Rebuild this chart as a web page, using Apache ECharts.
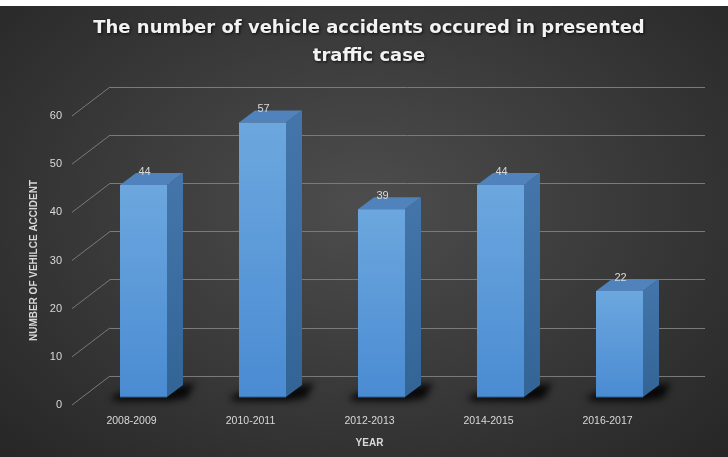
<!DOCTYPE html>
<html>
<head>
<meta charset="utf-8">
<script src="https://cdn.jsdelivr.net/npm/echarts@6/dist/echarts.min.js"></script>
<style>
html,body{margin:0;padding:0;background:#fff;}
#c{width:728px;height:457px;background:linear-gradient(#fff 0,#fff 6px,transparent 6px),radial-gradient(ellipse at 50% 45%,#4d4d4d 0%,#3c3c3c 45%,#262626 100%);}
</style>
</head>
<body>
<div id="c"></div>
<script>
var titleText = 'The number of vehicle accidents occured in presented\ntraffic case';
var categories = ['2008-2009', '2010-2011', '2012-2013', '2014-2015', '2016-2017'];
var accidents = [44, 57, 39, 44, 22];
var yTicks = [0, 10, 20, 30, 40, 50, 60];
var yAxisName = 'NUMBER OF VEHILCE ACCIDENT';
var xAxisName = 'YEAR';

var chart = echarts.init(document.getElementById('c'));

var DX = 38, DY = -29;       // wall depth
var BX = 12, BY = -8;        // bar front offset
var BW = 47;                 // bar width
var SX = 16, SY = -12;       // bar depth
var OFF = 2000;              // shadow-only trick offset

function barItem(params, api) {
  var idx = api.value(0), v = api.value(1);
  var top = api.coord([idx, v]);
  var base = api.coord([idx, 0]);
  var cx = top[0] + BX;
  var x0 = cx - BW / 2, x1 = cx + BW / 2;
  var yt = top[1] + BY, yb = base[1] + BY;
  var sh = [[x0 - 10, yb + 1], [x0, yb - 4], [x1 + SX + 12, yb + SY - 2], [x1 + SX + 4, yb + 1], [x1 + 2, yb + 4], [x0 - 4, yb + 4]]
    .map(function (p) { return [p[0] - OFF, p[1]]; });
  return {
    type: 'group',
    children: [
      { type: 'polygon', shape: { points: sh },
        style: { fill: '#000', shadowBlur: 7, shadowColor: 'rgba(0,0,0,0.85)', shadowOffsetX: OFF, shadowOffsetY: 0 }, z2: 1 },
      { type: 'polygon', shape: { points: [[x1, yt], [x1 + SX, yt + SY], [x1 + SX, yb + SY], [x1, yb]] },
        style: { fill: new echarts.graphic.LinearGradient(0, 0, 0, 1, [{ offset: 0, color: '#4576ab' }, { offset: 1, color: '#336496' }]) }, z2: 2 },
      { type: 'polygon', shape: { points: [[x0, yt], [x0 + SX, yt + SY], [x1 + SX, yt + SY], [x1, yt]] },
        style: { fill: '#5082bb' }, z2: 3 },
      { type: 'rect', shape: { x: x0, y: yt, width: BW, height: yb - yt },
        style: { fill: new echarts.graphic.LinearGradient(0, 0, 0, 1, [{ offset: 0, color: '#6ca7de' }, { offset: 1, color: '#4a8bd2' }]) }, z2: 4 },
      { type: 'line', shape: { x1: x0, y1: yb, x2: x1, y2: yb }, style: { stroke: '#2f5f95', lineWidth: 1 }, z2: 4 },
      { type: 'text', x: cx + 1, y: yt + SY - 1, z2: 5,
        style: { text: String(v), fill: '#d9d9d9', font: '11px "Liberation Sans", Arial, sans-serif', align: 'center', verticalAlign: 'middle' } }
    ]
  };
}

function diagItem(params, api) {
  var v = api.value(0);
  var p = api.coord([0, v]);
  var x = params.coordSys.x;
  return { type: 'line', shape: { x1: x, y1: p[1], x2: x + DX, y2: p[1] + DY },
    style: { stroke: '#7a7a7a', lineWidth: 1 } };
}

chart.setOption({
  animation: false,
  title: {
    text: titleText, left: 364, top: 9, textAlign: 'center',
    textStyle: { color: '#f2f2f2', fontSize: 18, fontWeight: 'bold', lineHeight: 28,
      fontFamily: '"DejaVu Sans", sans-serif',
      textShadowColor: 'rgba(0,0,0,0.8)', textShadowBlur: 3, textShadowOffsetX: 1, textShadowOffsetY: 1 }
  },
  grid: [
    { left: 72, right: 61, top: 116, bottom: 52 },
    { left: 110, right: 23, top: 87, bottom: 81 }
  ],
  xAxis: [
    { type: 'category', gridIndex: 0, data: categories,
      axisLine: { show: false }, axisTick: { show: false },
      axisLabel: { color: '#d9d9d9', fontSize: 10.5, margin: 11, fontFamily: '"Liberation Sans", Arial, sans-serif' },
      name: xAxisName, nameLocation: 'middle', nameGap: 33,
      nameTextStyle: { color: '#d9d9d9', fontSize: 10, fontWeight: 'bold', fontFamily: '"Liberation Sans", Arial, sans-serif' } },
    { type: 'category', gridIndex: 1, data: categories, show: false }
  ],
  yAxis: [
    { type: 'value', gridIndex: 0, min: 0, max: 60, interval: 10,
      axisLine: { show: false }, axisTick: { show: false }, splitLine: { show: false },
      axisLabel: { color: '#d9d9d9', fontSize: 11, margin: 10, fontFamily: '"Liberation Sans", Arial, sans-serif' },
      name: yAxisName, nameLocation: 'middle', nameGap: 24, nameRotate: 90,
      nameTextStyle: { color: '#d9d9d9', fontSize: 10, fontWeight: 'bold', fontFamily: '"Liberation Sans", Arial, sans-serif' } },
    { type: 'value', gridIndex: 1, min: 0, max: 60, interval: 10,
      axisLine: { show: false }, axisTick: { show: false }, axisLabel: { show: false },
      splitLine: { show: true, lineStyle: { color: '#7a7a7a', width: 1 } } }
  ],
  series: [
    { type: 'custom', xAxisIndex: 0, yAxisIndex: 0, renderItem: diagItem,
      data: yTicks.map(function (t) { return [t]; }), encode: { x: -1, y: 0 }, z: 1, silent: true },
    { type: 'custom', xAxisIndex: 0, yAxisIndex: 0, renderItem: barItem,
      data: accidents.map(function (v, i) { return [i, v]; }), encode: { x: 0, y: 1 }, z: 3 }
  ]
});
</script>
</body>
</html>
